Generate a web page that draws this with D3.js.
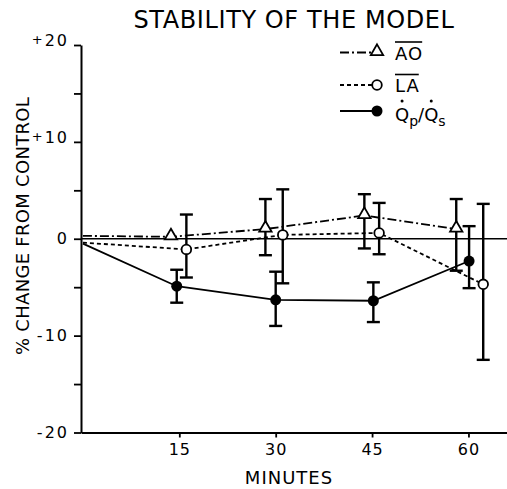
<!DOCTYPE html>
<html>
<head>
<meta charset="utf-8">
<script src="https://cdn.jsdelivr.net/npm/d3@7"></script>
<style>
  body { margin: 0; background: #fff; }
  svg { display: block; font-family: "DejaVu Sans", sans-serif; }
</style>
</head>
<body>
<svg width="507" height="489"></svg>
<script>
// values (minutes, % change from control)
// points are nudged sideways in the original so the bars don't overlap
var aoTime = [0, 13.7, 28.4, 43.8, 58.1];
var aoMean = [0.3, 0.2, 1.0, 2.4, 1.0];
var aoHigh = [null, null, 4.1, 4.6, 4.1];
var aoLow  = [null, null, -1.7, -1.0, -3.3];

var laTime = [0, 16.1, 31.1, 46.1, 62.3];
var laMean = [-0.4, -1.1, 0.4, 0.6, -4.7];
var laHigh = [null, 2.5, 5.1, 3.7, 3.6];
var laLow  = [null, -4.0, -4.6, -1.6, -12.5];

var qTime = [0, 14.6, 30.0, 45.2, 60.1];
var qMean = [-0.5, -4.9, -6.3, -6.4, -2.3];
var qHigh = [null, -3.2, -3.4, -4.5, 1.3];
var qLow  = [null, -6.6, -9.0, -8.6, -5.1];

var xTicks = [15, 30, 45, 60];
var yTicks = [-20, -15, -10, -5, 0, 5, 10, 15, 20];
var yTickLabels = {'-20': '-20', '-10': '-10', '0': '0', '10': '10', '20': '20'};

var svg = d3.select('svg');

var x = d3.scaleLinear().domain([-0.3, 66]).range([81, 507]);
var y = d3.scaleLinear().domain([-20, 20]).range([432.5, 45]);

// title
svg.append('text')
    .attr('x', 294).attr('y', 28)
    .attr('text-anchor', 'middle')
    .style('font-size', '24px')
    .style('letter-spacing', '0.6px')
    .text('STABILITY OF THE MODEL');

// y axis
var yAxis = svg.append('g')
    .attr('transform', 'translate(' + x(-0.3) + ',0)')
    .call(d3.axisLeft(y).tickValues(yTicks).tickSize(7).tickSizeOuter(0).tickPadding(5)
        .tickFormat(function(d) { return yTickLabels[d] || ''; }));
yAxis.select('.domain').attr('stroke-width', 2);
yAxis.selectAll('.tick line').attr('stroke-width', 1.8);
yAxis.selectAll('.tick text')
    .attr('font-size', 16)
    .attr('font-family', '"DejaVu Sans", sans-serif')
    .style('letter-spacing', '2px')
    .each(function(d) {
        if (d > 0 && yTickLabels[d]) {
            var t = d3.select(this);
            t.text('');
            t.append('tspan').attr('font-size', 13).attr('dy', '-0.08em').text('+');
            t.append('tspan').attr('dy', '0.08em').text(yTickLabels[d]);
        }
    });

// x axis
var xAxis = svg.append('g')
    .attr('transform', 'translate(0,' + y(-20) + ')')
    .call(d3.axisBottom(x).tickValues(xTicks).tickSize(5).tickSizeOuter(0).tickPadding(6));
xAxis.select('.domain').attr('stroke-width', 2);
xAxis.selectAll('.tick line').attr('stroke-width', 1.8);
xAxis.selectAll('.tick text')
    .attr('font-size', 16)
    .attr('font-family', '"DejaVu Sans", sans-serif')
    .style('letter-spacing', '1px');

svg.append('text')
    .attr('x', 289).attr('y', 484)
    .attr('text-anchor', 'middle')
    .style('font-size', '18px')
    .style('letter-spacing', '1px')
    .text('MINUTES');

svg.append('text')
    .attr('transform', 'translate(29,226) rotate(-90)')
    .attr('text-anchor', 'middle')
    .style('font-size', '18px')
    .style('letter-spacing', '0.3px')
    .text('% CHANGE FROM CONTROL');

// zero line
svg.append('line')
    .attr('x1', x(-0.3)).attr('x2', 507)
    .attr('y1', y(0)).attr('y2', y(0))
    .attr('stroke', '#000').attr('stroke-width', 1.6);

function makeSeries(time, mean, high, low) {
    return time.map(function(t, i) {
        return {t: t, v: mean[i], hi: high[i], lo: low[i]};
    });
}

var series = [
    {key: 'ao', data: makeSeries(aoTime, aoMean, aoHigh, aoLow), dash: '9,3,2,3', marker: 'triangle'},
    {key: 'la', data: makeSeries(laTime, laMean, laHigh, laLow), dash: '4,3', marker: 'open'},
    {key: 'q',  data: makeSeries(qTime, qMean, qHigh, qLow), dash: null, marker: 'filled'}
];

var line = d3.line()
    .x(function(d) { return x(d.t); })
    .y(function(d) { return y(d.v); });

var triangle = d3.symbol().type(d3.symbolTriangle).size(66);

function drawMarker(g, kind) {
    if (kind === 'triangle') {
        g.append('path').attr('d', triangle)
            .attr('transform', 'translate(0,-1)')
            .attr('fill', '#fff').attr('stroke', '#000').attr('stroke-width', 1.8);
    } else if (kind === 'open') {
        g.append('circle').attr('r', 4.8)
            .attr('fill', '#fff').attr('stroke', '#000').attr('stroke-width', 1.8);
    } else {
        g.append('circle').attr('r', 5.5).attr('fill', '#000');
    }
}

// connecting lines
series.forEach(function(s) {
    svg.append('path')
        .datum(s.data)
        .attr('d', line)
        .attr('fill', 'none')
        .attr('stroke', '#000')
        .attr('stroke-width', 1.8)
        .attr('stroke-dasharray', s.dash);
});

// error bars
series.forEach(function(s) {
    var bars = svg.selectAll('.err-' + s.key)
        .data(s.data.filter(function(d) { return d.hi !== null; }))
        .enter().append('g')
        .attr('class', 'err-' + s.key);
    bars.append('line')
        .attr('x1', function(d) { return x(d.t); })
        .attr('x2', function(d) { return x(d.t); })
        .attr('y1', function(d) { return y(d.hi); })
        .attr('y2', function(d) { return y(d.lo); })
        .attr('stroke', '#000').attr('stroke-width', 2.4);
    ['hi', 'lo'].forEach(function(k) {
        bars.append('line')
            .attr('x1', function(d) { return x(d.t) - 6.5; })
            .attr('x2', function(d) { return x(d.t) + 6.5; })
            .attr('y1', function(d) { return y(d[k]); })
            .attr('y2', function(d) { return y(d[k]); })
            .attr('stroke', '#000').attr('stroke-width', 2.4);
    });
});

// markers (skip the starting point on the axis)
series.forEach(function(s) {
    svg.selectAll('.pt-' + s.key)
        .data(s.data.slice(1))
        .enter().append('g')
        .attr('class', 'pt-' + s.key)
        .attr('transform', function(d) { return 'translate(' + [x(d.t), y(d.v)] + ')'; })
        .each(function() { drawMarker(d3.select(this), s.marker); });
});

// legend
var legendRows = [
    {y: 52.5, marker: 'triangle', dash: '9,3,2,3'},
    {y: 85, marker: 'open', dash: '4,3'},
    {y: 111, marker: 'filled', dash: null}
];
legendRows.forEach(function(r) {
    svg.append('line')
        .attr('x1', 340).attr('x2', 377)
        .attr('y1', r.y).attr('y2', r.y)
        .attr('stroke', '#000').attr('stroke-width', 1.8)
        .attr('stroke-dasharray', r.dash);
    drawMarker(svg.append('g').attr('transform', 'translate(377,' + r.y + ')'), r.marker);
});

function overlined(txt, yb) {
    var t = svg.append('text')
        .attr('x', 395).attr('y', yb)
        .style('font-size', '18px')
        .style('letter-spacing', '1px')
        .text(txt);
    var w = t.node().getComputedTextLength();
    svg.append('line')
        .attr('x1', 395).attr('x2', 395 + w - 1)
        .attr('y1', yb - 17.5).attr('y2', yb - 17.5)
        .attr('stroke', '#000').attr('stroke-width', 1.6);
}
overlined('AO', 59.5);
overlined('LA', 92);

var qText = svg.append('text')
    .attr('x', 395).attr('y', 120.5)
    .style('font-size', '18px');
qText.append('tspan').text('Q');
qText.append('tspan').style('font-size', '14px').attr('dy', 5).text('p');
qText.append('tspan').attr('dy', -5).text('/');
qText.append('tspan').text('Q');
qText.append('tspan').style('font-size', '14px').attr('dy', 5).text('s');
// dots over both Q's
[0, 3].forEach(function(i) {
    var box = qText.node().getExtentOfChar(i);
    svg.append('circle')
        .attr('cx', box.x + box.width / 2)
        .attr('cy', 101)
        .attr('r', 1.5)
        .attr('fill', '#000');
});
</script>
</body>
</html>
